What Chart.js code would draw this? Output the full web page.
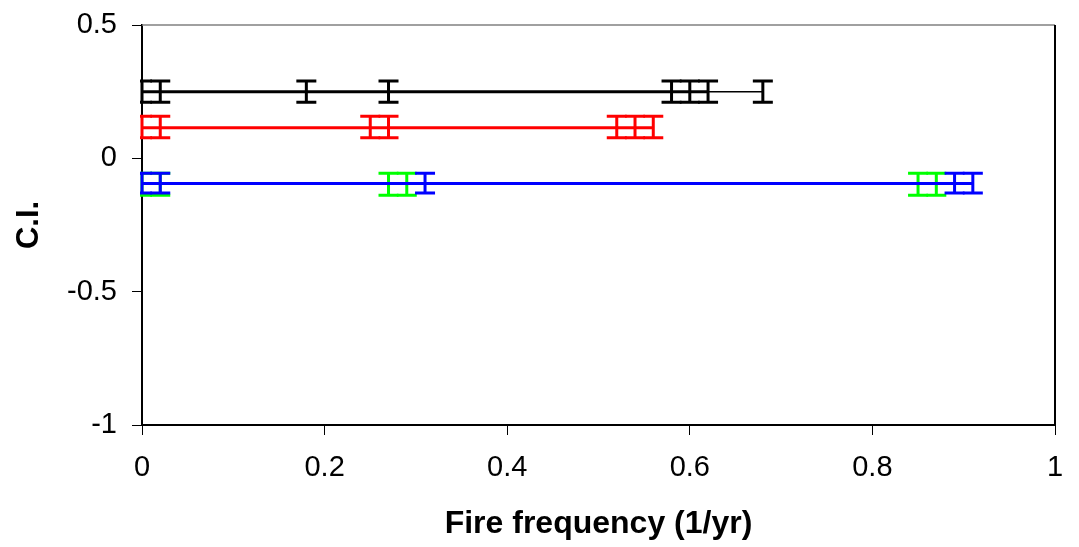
<!DOCTYPE html>
<html>
<head>
<meta charset="utf-8">
<title>C.I. vs fire frequency</title>
<script src="https://cdn.jsdelivr.net/npm/chart.js@4/dist/chart.umd.min.js"></script>
<style>
  html, body { margin: 0; padding: 0; background: #fff; }
  canvas { display: block; }
</style>
</head>
<body>
<canvas id="ciChart" width="1079" height="547"></canvas>
<script>
// fire frequency (1/yr) for each run, with the C.I. mean and its interval bounds
const blackX = [0, 0.02, 0.18, 0.27, 0.58, 0.60, 0.62, 0.68];
const blackY = 0.25, blackLo = 0.21, blackHi = 0.29;

const redX = [0, 0.02, 0.25, 0.27, 0.52, 0.54, 0.56];
const redY = 0.115, redLo = 0.077, redHi = 0.158;

const blueX = [0, 0.02, 0.31, 0.89, 0.91];
const blueY = -0.094, blueLo = -0.13, blueHi = -0.056;

const greenX = [0, 0.02, 0.27, 0.29, 0.85, 0.87];
const greenY = -0.094, greenLo = -0.138, greenHi = -0.056;

const yTicks = [-1, -0.5, 0, 0.5];
const xTicks = [0, 0.2, 0.4, 0.6, 0.8, 1];

const FONT = "'Liberation Sans', Arial, sans-serif";

function series(xs, y, lo, hi) {
  return xs.map(x => ({ x, y, lo, hi }));
}

// vertical interval bars with end caps, drawn right after each line
const errorBars = {
  id: 'errorBars',
  afterDatasetDraw(chart, args) {
    const { ctx, chartArea, scales } = chart;
    const ds = chart.data.datasets[args.index];
    const cap = 10;
    ctx.save();
    ctx.beginPath();
    ctx.rect(chartArea.left - 2, chartArea.top, chartArea.right - chartArea.left + 2, chartArea.bottom - chartArea.top);
    ctx.clip();
    ctx.strokeStyle = ds.borderColor;
    ctx.lineWidth = 3;
    ctx.lineCap = 'butt';
    ds.data.forEach(p => {
      const x = scales.x.getPixelForValue(p.x);
      const yLo = scales.y.getPixelForValue(p.lo);
      const yHi = scales.y.getPixelForValue(p.hi);
      ctx.beginPath();
      ctx.moveTo(x, yLo);
      ctx.lineTo(x, yHi);
      ctx.moveTo(x - cap, yLo);
      ctx.lineTo(x + cap, yLo);
      ctx.moveTo(x - cap, yHi);
      ctx.lineTo(x + cap, yHi);
      ctx.stroke();
    });
    ctx.restore();
  }
};

// top and right edges of the plot box
const frame = {
  id: 'frame',
  beforeDatasetsDraw(chart) {
    const { ctx, chartArea: a } = chart;
    ctx.save();
    ctx.strokeStyle = '#808080';
    ctx.lineWidth = 1.5;
    ctx.beginPath();
    ctx.moveTo(a.left, a.top);
    ctx.lineTo(a.right, a.top);
    ctx.stroke();
    ctx.strokeStyle = '#000';
    ctx.lineWidth = 2;
    ctx.beginPath();
    ctx.moveTo(a.right, a.top);
    ctx.lineTo(a.right, a.bottom);
    ctx.stroke();
    ctx.restore();
  }
};

function lineSet(data, color, extra) {
  return Object.assign({
    data,
    borderColor: color,
    backgroundColor: color,
    borderWidth: 3,
    pointRadius: 0,
    showLine: true,
    fill: false,
    tension: 0
  }, extra || {});
}

new Chart(document.getElementById('ciChart').getContext('2d'), {
  type: 'scatter',
  data: {
    datasets: [
      lineSet(series(blackX, blackY, blackLo, blackHi), '#000000', {
        segment: { borderWidth: c => c.p1DataIndex === blackX.length - 1 ? 1.5 : 3 }
      }),
      lineSet(series(redX, redY, redLo, redHi), '#ff0000'),
      lineSet(series(blueX, blueY, blueLo, blueHi), '#0000ff'),
      lineSet(series(greenX, greenY, greenLo, greenHi), '#00ff00')
    ]
  },
  options: {
    responsive: false,
    animation: false,
    devicePixelRatio: 1,
    layout: { padding: { top: 25, right: 24, bottom: 0, left: 0 } },
    plugins: {
      legend: { display: false },
      tooltip: { enabled: false }
    },
    scales: {
      x: {
        type: 'linear',
        min: 0,
        max: 1,
        afterBuildTicks: s => { s.ticks = xTicks.map(v => ({ value: v })); },
        afterFit: s => { s.height = 122; s.paddingRight = 0; s.paddingLeft = 0; },
        grid: { drawOnChartArea: false, tickLength: 10, color: '#000', lineWidth: 1 },
        border: { color: '#000', width: 2 },
        ticks: {
          color: '#000',
          padding: 16,
          maxRotation: 0,
          font: { family: FONT, size: 29 },
          callback: v => String(+Number(v).toFixed(1))
        },
        title: {
          display: true,
          text: 'Fire frequency (1/yr)',
          color: '#000',
          font: { family: FONT, size: 32, weight: 'bold' },
          padding: { top: 0, bottom: 4 }
        }
      },
      y: {
        type: 'linear',
        min: -1,
        max: 0.5,
        afterBuildTicks: s => { s.ticks = yTicks.map(v => ({ value: v })); },
        afterFit: s => { s.width = 142; s.paddingTop = 0; s.paddingBottom = 0; },
        grid: { drawOnChartArea: false, tickLength: 10, color: '#000', lineWidth: 1 },
        border: { color: '#000', width: 2 },
        ticks: {
          color: '#000',
          padding: 15,
          font: { family: FONT, size: 29 },
          callback: v => String(+Number(v).toFixed(1))
        },
        title: {
          display: true,
          text: 'C.I.',
          color: '#000',
          font: { family: FONT, size: 31, weight: 'bold' },
          padding: { top: 11, bottom: 0 }
        }
      }
    }
  },
  plugins: [frame, errorBars]
});
</script>
</body>
</html>
